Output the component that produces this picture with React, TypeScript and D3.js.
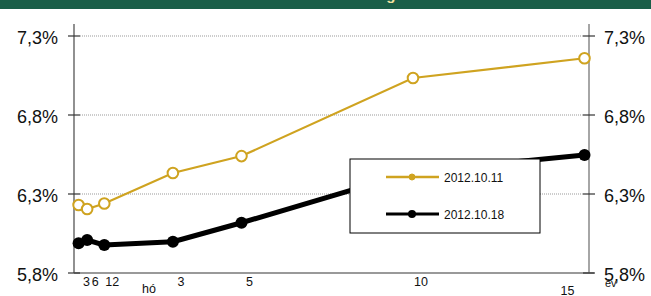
import React from "react";
import * as d3 from "d3";

const maturities = [0.25, 0.5, 1, 3, 5, 10, 15];
const series1011 = [6.23, 6.205, 6.24, 6.433, 6.54, 7.034, 7.159];
const series1018 = [5.988, 6.009, 5.977, 5.998, 6.118, 6.44, 6.547];
const seriesNames = ["2012.10.11", "2012.10.18"];
const yTicks = [5.8, 6.3, 6.8, 7.3];
const xTickLabels = ["3", "6", "12", "3", "5", "10", "15"];
const titleText = "Referencia hozamgörbe";

const W = 651;
const H = 296;
const GOLD = "#cfa320";
const FONT = "Arial, 'Liberation Sans', sans-serif";

export default function App() {
  const x = d3.scaleLinear().domain([0, 15]).range([70, 584.5]);
  const y = d3.scaleLinear().domain([5.8, 7.3]).range([273, 36]);
  const left = 74;
  const right = 589;
  const top = 24;
  const bottom = 273;

  const line = d3
    .line<number>()
    .x((_, i) => x(maturities[i]))
    .y((d) => y(d));

  const fmt = (v: number) => v.toFixed(1).replace(".", ",") + "%";

  return (
    <svg
      width={W}
      height={H}
      style={{ position: "absolute", left: 0, top: 0, background: "#fff" }}
      fontFamily={FONT}
    >
      <rect x={0} y={0} width={W} height={9} fill="#1a5e48" />
      <text
        x={343}
        y={-0.5}
        textAnchor="middle"
        fontSize={15}
        fontWeight="bold"
        fill="#f2e3a0"
      >
        {titleText}
      </text>

      {/* gridlines */}
      {yTicks
        .filter((t) => t > 5.8)
        .map((t) => (
          <line
            key={"g" + t}
            x1={left + 6}
            x2={right - 6}
            y1={y(t)}
            y2={y(t)}
            stroke="#999"
            strokeWidth={1}
            strokeDasharray="1,1"
          />
        ))}

      {/* axes */}
      <line x1={left} x2={left} y1={top} y2={bottom} stroke="#555" strokeWidth={1.3} />
      <line x1={right} x2={right} y1={top} y2={bottom} stroke="#888" strokeWidth={1.5} />
      <line x1={left} x2={right + 5} y1={bottom} y2={bottom} stroke="#777" strokeWidth={1.3} />
      {yTicks.map((t) => (
        <g key={"t" + t}>
          <line x1={left - 6} x2={left + 6} y1={y(t)} y2={y(t)} stroke="#333" strokeWidth={1.2} />
          <line x1={right - 6} x2={right + 6} y1={y(t)} y2={y(t)} stroke="#333" strokeWidth={1.2} />
          <text x={58} y={y(t) + 8} textAnchor="end" fontSize={18} fill="#111">
            {fmt(t)}
          </text>
          <text x={604} y={y(t) + 8} textAnchor="start" fontSize={18} fill="#111">
            {fmt(t)}
          </text>
        </g>
      ))}

      {/* x tick labels */}
      {maturities.map((m, i) => {
        const last = i === maturities.length - 1;
        return (
          <text
            key={"x" + i}
            x={last ? x(m) - 17 : x(m) + 8}
            y={last ? 294.5 : 286}
            textAnchor="middle"
            fontSize={12.5}
            fill="#111"
          >
            {xTickLabels[i]}
          </text>
        );
      })}
      <text x={149} y={293} textAnchor="middle" fontSize={12.5} fill="#111">
        hó
      </text>
      <text x={605} y={287} textAnchor="start" fontSize={11} fill="#111">
        év
      </text>

      {/* series 2012.10.11 */}
      <path d={line(series1011) || ""} fill="none" stroke={GOLD} strokeWidth={2.2} />
      {series1011.map((v, i) => (
        <circle
          key={"a" + i}
          cx={x(maturities[i])}
          cy={y(v)}
          r={5.3}
          fill="#fff"
          stroke={GOLD}
          strokeWidth={2}
        />
      ))}

      {/* series 2012.10.18 */}
      <path d={line(series1018) || ""} fill="none" stroke="#000" strokeWidth={5} strokeLinejoin="round" />
      {series1018.map((v, i) => (
        <circle key={"b" + i} cx={x(maturities[i])} cy={y(v)} r={6} fill="#000" />
      ))}

      {/* legend */}
      <rect x={350} y={159} width={190} height={74} fill="#fff" stroke="#000" strokeWidth={1} />
      <line x1={386} x2={439} y1={177} y2={177} stroke={GOLD} strokeWidth={2.5} />
      <circle cx={412} cy={177} r={3} fill={GOLD} stroke={GOLD} />
      <text x={444} y={181.5} fontSize={12} fill="#111">
        {seriesNames[0]}
      </text>
      <line x1={386} x2={439} y1={214} y2={214} stroke="#000" strokeWidth={2.8} />
      <circle cx={412} cy={214} r={4} fill="#000" />
      <text x={444} y={218.5} fontSize={12} fill="#111">
        {seriesNames[1]}
      </text>
    </svg>
  );
}
